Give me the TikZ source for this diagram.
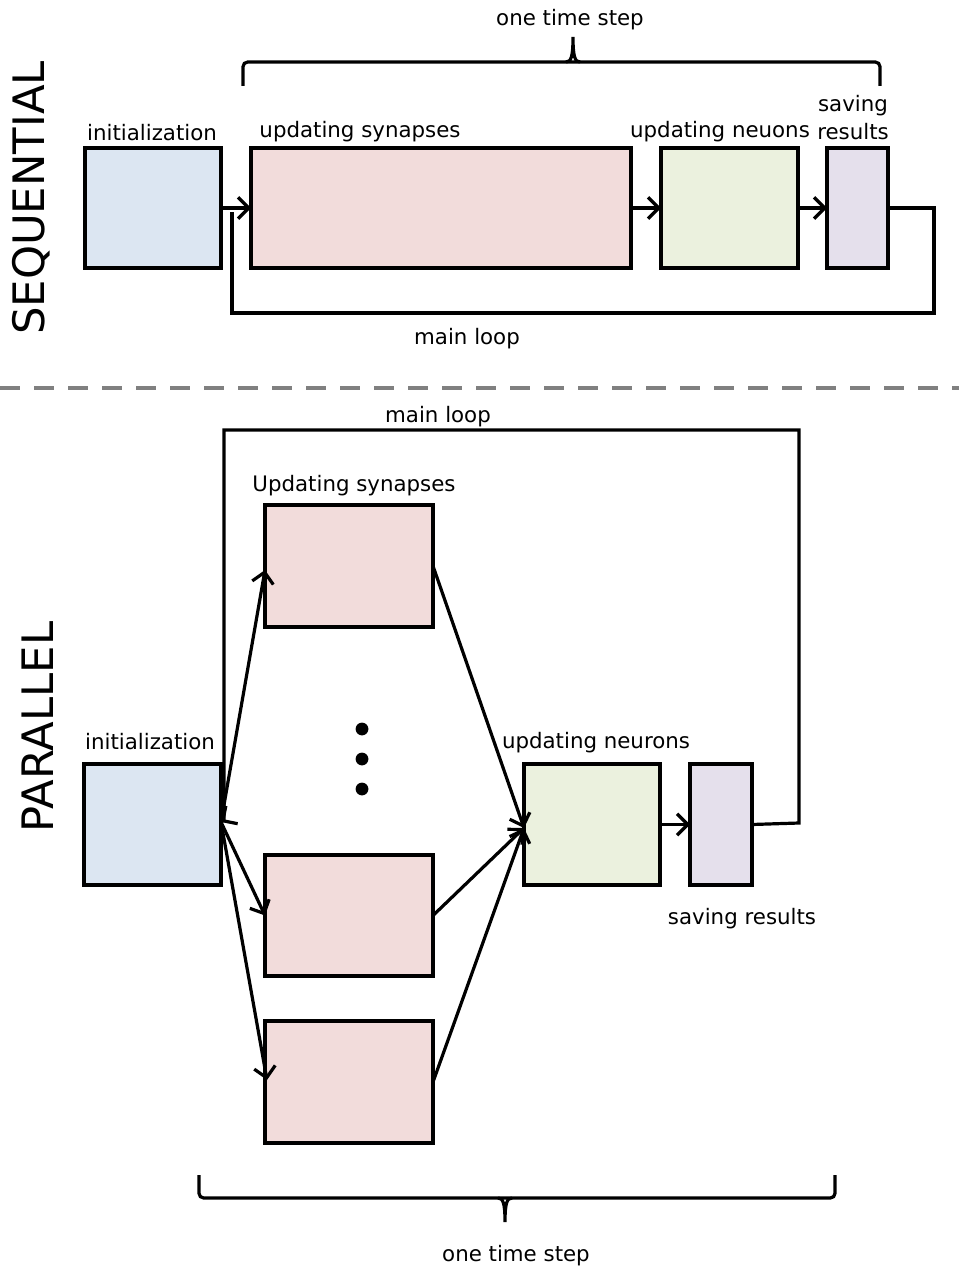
\documentclass[tikz,border=0pt]{standalone}
\usepackage{fontspec}
\setmainfont{DejaVu Sans}
\usetikzlibrary{arrows.meta,calc}
\definecolor{cinit}{HTML}{DCE6F2}
\definecolor{csyn}{HTML}{F2DCDB}
\definecolor{cneu}{HTML}{EBF1DE}
\definecolor{csav}{HTML}{E5E0EC}
\definecolor{cdash}{HTML}{808080}
\tikzset{
  box/.style={draw=black,line width=3.4pt,rectangle,inner sep=0pt,outer sep=0pt},
  tipstyle/.style={-{Straight Barb[length=8pt,width=16pt,line width=2.4pt]}},
  conn/.style={line width=2.4pt,tipstyle},
  loopline/.style={line width=2.4pt},
  lbl/.style={inner sep=0pt,font=\fontsize{16}{21}\selectfont},
  big/.style={inner sep=0pt,font=\fontsize{32.5}{38}\selectfont,rotate=90},
  brline/.style={line width=2.4pt,rounded corners=3.5pt}
}
\begin{document}
\begin{tikzpicture}[x=0.75pt,y=-0.75pt]
\useasboundingbox (0,0) rectangle (959,1273);
% ---------- SEQUENTIAL ----------
\node[big] (seqlbl) at (31,198) {SEQUENTIAL};
\node[box,fill=cinit,minimum width=102pt,minimum height=90pt] (sinit) at (153,208) {};
\node[box,fill=csyn,minimum width=285pt,minimum height=90pt] (ssyn) at (441,208) {};
\node[box,fill=cneu,minimum width=102.75pt,minimum height=90pt] (sneu) at (729.5,208) {};
\node[box,fill=csav,minimum width=45.75pt,minimum height=90pt] (ssav) at (857.5,208) {};
\node[lbl] (tinit) at (152,133) {initialization};
\node[lbl] (tsyn) at (360,132) {updating synapses};
\node[lbl] (tneu) at (720,132) {updating neuons};
\node[lbl,align=center] (tsav) at (853,118) {saving\\results};
\node[lbl] (tloop) at (467,339) {main loop};
\node[lbl] (tstep) at (570,20) {one time step};
\draw[conn] (sinit.east) -- (ssyn.west);
\draw[conn] (ssyn.east) -- (sneu.west);
\draw[conn] (sneu.east) -- (ssav.west);
\coordinate (sl1) at (934,208);
\coordinate (sl2) at (934,313);
\coordinate (sl3) at (232,313);
\coordinate (sl4) at (232,212);
\draw[loopline] (ssav.east) -- (sl1) -- (sl2) -- (sl3) -- (sl4);
% top brace
\coordinate (sb1) at (243,86);
\coordinate (sb2) at (243,62);
\coordinate (sb3) at (880,62);
\coordinate (sb4) at (880,86);
\coordinate (sbt) at (573,37);
\draw[brline] (sb1) -- (sb2) -- (sb3) -- (sb4);
\draw[line width=2.4pt] (566,62) .. controls (571,62) and (573,57) .. (sbt) .. controls (573,57) and (575,62) .. (580,62);
% ---------- separator ----------
\coordinate (d1) at (0,388);
\coordinate (d2) at (959,388);
\draw[draw=cdash,line width=3pt,dash pattern=on 15pt off 10.5pt] (d1) -- (d2);
% ---------- PARALLEL ----------
\node[big] (parlbl) at (38,727) {PARALLEL};
\node[box,fill=cinit,minimum width=102.75pt,minimum height=90.75pt] (pinit) at (152.5,824.5) {};
\node[box,fill=csyn,minimum width=126pt,minimum height=91.5pt] (psyn1) at (349,566) {};
\node[box,fill=csyn,minimum width=126pt,minimum height=90.75pt] (psyn2) at (349,915.5) {};
\node[box,fill=csyn,minimum width=126pt,minimum height=91.5pt] (psyn3) at (349,1082) {};
\node[box,fill=cneu,minimum width=102pt,minimum height=90.75pt] (pneu) at (592,824.5) {};
\node[box,fill=csav,minimum width=46.5pt,minimum height=90.75pt] (psav) at (721,824.5) {};
\fill (362,729) circle (4.8pt);
\fill (362,759) circle (4.8pt);
\fill (362,789) circle (4.8pt);
\node[lbl] (ptloop) at (438,417) {main loop};
\node[lbl] (ptsyn) at (354,486) {Updating synapses};
\node[lbl] (ptinit) at (150,742) {initialization};
\node[lbl] (ptneu) at (596,743) {updating neurons};
\node[lbl] (ptsav) at (742,919) {saving results};
\node[lbl] (ptstep) at (516,1256) {one time step};
\coordinate (pe) at (221,822);
\draw[conn] (pe) -- ($(psyn1.west)+(0,4)$);
\draw[conn] (pe) -- (psyn2.west);
\draw[conn] (pe) -- ($(psyn3.west)+(2,-2)$);
\coordinate (pw) at (524,828);
\draw[conn] (psyn1.east) -- (pw);
\draw[conn] (psyn2.east) -- (pw);
\draw[conn] (psyn3.east) -- (pw);
\draw[conn] (pneu.east) -- (psav.west);
\coordinate (pl1) at (799,823);
\coordinate (pl2) at (799,430);
\coordinate (pl3) at (224,430);
\coordinate (pl4) at (224,820);
\draw[loopline,tipstyle] (psav.east) -- (pl1) -- (pl2) -- (pl3) -- (pl4) -- (pe);
% bottom brace
\coordinate (pb1) at (199,1175);
\coordinate (pb2) at (199,1198);
\coordinate (pb3) at (835,1198);
\coordinate (pb4) at (835,1175);
\coordinate (pbt) at (505,1222);
\draw[brline] (pb1) -- (pb2) -- (pb3) -- (pb4);
\draw[line width=2.4pt] (498,1198) .. controls (503,1198) and (505,1203) .. (pbt) .. controls (505,1203) and (507,1198) .. (512,1198);
\end{tikzpicture}
\end{document}
